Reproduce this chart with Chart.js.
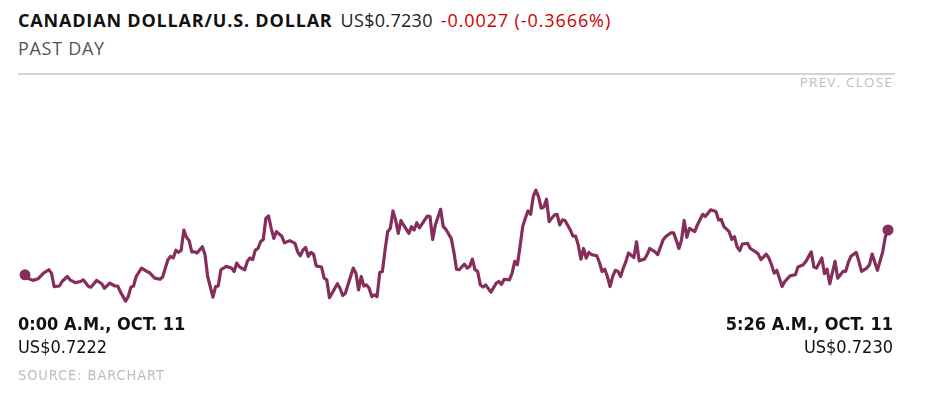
<!DOCTYPE html>
<html>
<head>
<meta charset="utf-8">
<script src="https://cdn.jsdelivr.net/npm/chart.js@4"></script>
<style>
  html, body { margin: 0; padding: 0; background: #fff; }
  body { width: 926px; height: 396px; position: relative; overflow: hidden; font-family: "Open Sans", sans-serif; }
  .t { position: absolute; white-space: nowrap; line-height: 1; }
  #title { left: 18px; top: 11px; font-size: 18px; }
  #title b { font-weight: 700; color: #111; letter-spacing: 0.82px; }
  #title .px { color: #222; margin-left: 8px; letter-spacing: 0.3px; }
  #title .chg { color: #cc0000; margin-left: 8px; letter-spacing: 0.9px; }
  #sub { left: 18px; top: 39px; font-size: 18px; color: #555; letter-spacing: 0.7px; }
  #rule { position: absolute; left: 18px; top: 73px; width: 877px; height: 2px; background: #d3d3d3; }
  #prev { right: 33px; top: 76px; font-size: 13.5px; color: #bdbdbd; letter-spacing: 1.2px; }
  .lab { font-family: "Liberation Sans Narrow", "DejaVu Sans Condensed", "Arial Narrow", sans-serif; font-size: 18px; color: #111; }
  #l1 { left: 18px; top: 315px; font-weight: 700; }
  #l2 { left: 18px; top: 338px; }
  #r1 { right: 33px; top: 315px; font-weight: 700; }
  #r2 { right: 33px; top: 338px; }
  #src { left: 18px; top: 368px; font-size: 14.5px; color: #bdbdbd; font-family: "Liberation Sans Narrow", "DejaVu Sans Condensed", sans-serif; letter-spacing: 0.9px; }
  #wrap { position: absolute; left: 0; top: 174px; width: 926px; height: 140px; }
</style>
</head>
<body>
<div class="t" id="title"><b>CANADIAN DOLLAR/U.S. DOLLAR</b><span class="px">US$0.7230</span><span class="chg">-0.0027 (-0.3666%)</span></div>
<div class="t" id="sub">PAST DAY</div>
<div id="rule"></div>
<div class="t" id="prev">PREV. CLOSE</div>
<div id="wrap"><canvas id="c"></canvas></div>
<div class="t lab" id="l1">0:00 A.M., OCT. 11</div>
<div class="t lab" id="l2">US$0.7222</div>
<div class="t lab" id="r1">5:26 A.M., OCT. 11</div>
<div class="t lab" id="r2">US$0.7230</div>
<div class="t" id="src">SOURCE: BARCHART</div>
<script>
// minutes after 0:00 A.M., Oct. 11
const minutes = [
  0,1,3,5,7,9,10,11,13,14,16,17,19,21,22,24,25,27,29,30,32,34,35,36,38,39,40,41,42,44,
  46,47,49,51,52,53,54,55,56,57,58,59,60,61,62,63,64,65,67,68,69,71,72,73,74,76,78,79,80,81,
  83,84,85,86,87,88,89,90,91,92,93,94,95,97,98,100,102,103,104,105,106,107,108,109,110,112,113,114,115,116,
  118,119,120,121,123,124,125,126,127,128,129,130,131,132,133,134,135,136,137,138,139,140,141,142,143,145,146,147,148,149,
  150,152,153,154,155,157,158,159,161,162,163,164,166,167,168,169,170,171,172,173,174,176,178,179,180,181,183,184,185,186,
  187,188,189,190,191,192,193,194,195,196,197,198,200,201,202,203,204,206,207,208,209,210,211,212,213,214,216,217,218,219,
  220,221,222,223,224,225,226,227,228,230,231,232,234,235,236,238,239,241,242,244,245,246,247,248,249,250,251,253,254,256,
  257,258,259,261,262,263,264,266,267,268,269,270,271,273,274,276,277,278,280,281,282,283,284,286,287,289,291,292,294,295,
  297,298,299,301,302,303,304,306,307,309,310,311,312,314,315,316,318,319,320,322,324,325,326
];
// CAD/USD rate, US$
const rates = [
  0.72220,0.72214,0.72210,0.72213,0.72223,0.72229,0.72223,0.72199,0.72200,0.72208,0.72217,0.72211,0.72206,0.72208,0.72211,0.72199,0.72198,0.72210,0.72204,0.72196,0.72205,0.72200,0.72200,0.72190,0.72173,0.72181,0.72198,0.72200,0.72217,0.72232,
  0.72226,0.72224,0.72214,0.72212,0.72216,0.72232,0.72247,0.72253,0.72250,0.72264,0.72260,0.72264,0.72300,0.72287,0.72281,0.72261,0.72261,0.72259,0.72270,0.72256,0.72217,0.72180,0.72199,0.72200,0.72229,0.72235,0.72232,0.72226,0.72241,0.72234,
  0.72229,0.72244,0.72250,0.72247,0.72264,0.72267,0.72279,0.72283,0.72321,0.72325,0.72303,0.72285,0.72297,0.72289,0.72277,0.72281,0.72276,0.72261,0.72254,0.72264,0.72269,0.72253,0.72260,0.72257,0.72236,0.72234,0.72214,0.72211,0.72179,0.72187,
  0.72204,0.72196,0.72183,0.72187,0.72217,0.72232,0.72223,0.72193,0.72217,0.72200,0.72202,0.72196,0.72181,0.72184,0.72181,0.72224,0.72226,0.72264,0.72297,0.72303,0.72334,0.72318,0.72294,0.72317,0.72309,0.72294,0.72306,0.72300,0.72313,0.72304,
  0.72311,0.72325,0.72324,0.72283,0.72309,0.72337,0.72306,0.72301,0.72285,0.72261,0.72230,0.72229,0.72239,0.72232,0.72235,0.72248,0.72229,0.72226,0.72202,0.72198,0.72202,0.72189,0.72205,0.72208,0.72203,0.72212,0.72211,0.72223,0.72244,0.72238,
  0.72270,0.72306,0.72321,0.72334,0.72328,0.72360,0.72371,0.72359,0.72339,0.72341,0.72355,0.72315,0.72327,0.72328,0.72309,0.72318,0.72317,0.72300,0.72289,0.72289,0.72273,0.72248,0.72267,0.72250,0.72260,0.72256,0.72254,0.72242,0.72226,0.72230,
  0.72217,0.72199,0.72217,0.72228,0.72226,0.72217,0.72232,0.72244,0.72259,0.72251,0.72279,0.72245,0.72248,0.72256,0.72267,0.72261,0.72256,0.72282,0.72288,0.72295,0.72295,0.72282,0.72267,0.72282,0.72317,0.72287,0.72303,0.72297,0.72309,0.72328,
  0.72324,0.72330,0.72336,0.72333,0.72318,0.72319,0.72306,0.72297,0.72283,0.72288,0.72270,0.72263,0.72275,0.72276,0.72267,0.72261,0.72257,0.72247,0.72257,0.72250,0.72238,0.72223,0.72228,0.72199,0.72208,0.72218,0.72220,0.72234,0.72238,0.72244,
  0.72261,0.72234,0.72232,0.72250,0.72222,0.72230,0.72204,0.72244,0.72214,0.72226,0.72226,0.72242,0.72253,0.72260,0.72244,0.72226,0.72232,0.72238,0.72257,0.72228,0.72261,0.72288,0.72300
];
const xRange = [0, 326];
const yRange = [0.7215, 0.7240];

const points = minutes.map((m, i) => ({ x: m, y: rates[i] }));
const last = points.length - 1;
const lineColor = '#852d5b';

new Chart(document.getElementById('c'), {
  type: 'line',
  data: {
    datasets: [{
      data: points,
      borderColor: lineColor,
      backgroundColor: lineColor,
      borderWidth: 3.2,
      borderJoinStyle: 'round',
      borderCapStyle: 'round',
      tension: 0,
      fill: false,
      clip: false,
      pointRadius: ctx => (ctx.dataIndex === 0 || ctx.dataIndex === last) ? 5.5 : 0,
      pointHoverRadius: 0,
      pointBorderWidth: 0,
      pointBackgroundColor: lineColor
    }]
  },
  options: {
    responsive: true,
    maintainAspectRatio: false,
    animation: false,
    events: [],
    layout: { autoPadding: false, padding: { left: 25, right: 38, top: 0, bottom: 0 } },
    plugins: { legend: { display: false }, tooltip: { enabled: false } },
    scales: {
      x: { type: 'linear', min: xRange[0], max: xRange[1], display: false },
      y: { type: 'linear', min: yRange[0], max: yRange[1], display: false }
    }
  }
});
</script>
</body>
</html>
